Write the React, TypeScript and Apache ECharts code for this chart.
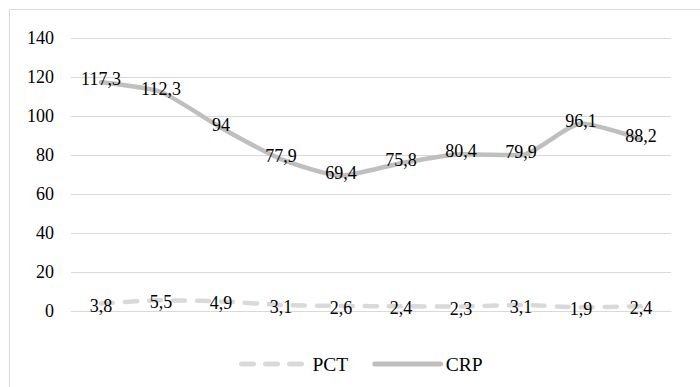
import React, { useEffect, useRef } from "react";
import * as echarts from "echarts";

const categories = ["1", "2", "3", "4", "5", "6", "7", "8", "9", "10"];
const pctValues = [3.8, 5.5, 4.9, 3.1, 2.6, 2.4, 2.3, 3.1, 1.9, 2.4];
const crpValues = [117.3, 112.3, 94, 77.9, 69.4, 75.8, 80.4, 79.9, 96.1, 88.2];
const yTicks = { min: 0, max: 140, interval: 20 };
const seriesNames = ["PCT", "CRP"];

const FONT = "serif";
const fmt = (v: number) => String(v).replace(".", ",");

export default function App() {
  const ref = useRef<HTMLDivElement>(null);
  useEffect(() => {
    if (!ref.current) return;
    const chart = echarts.init(ref.current, undefined, { renderer: "svg" });
    chart.setOption({
      animation: false,
      backgroundColor: "#ffffff",
      textStyle: { fontFamily: FONT },
      graphic: [
        {
          type: "rect",
          z: -10,
          shape: { x: 9.5, y: 9.5, width: 720, height: 420 },
          style: { fill: "none", stroke: "#d9d9d9", lineWidth: 1 },
        },
      ],
      grid: { left: 71, right: 29, top: 38, bottom: 76 },
      legend: {
        top: 349,
        left: 234,
        itemWidth: 66,
        itemHeight: 20,
        itemGap: 24,
        lineStyle: { width: 5, cap: "round" },
        textStyle: { fontFamily: FONT, fontSize: 19.5, color: "#000" },
        data: seriesNames,
      },
      xAxis: {
        type: "category",
        data: categories,
        boundaryGap: true,
        axisLine: { show: true, lineStyle: { color: "#d9d9d9", width: 1 } },
        axisTick: { show: false },
        axisLabel: { show: false },
      },
      yAxis: {
        type: "value",
        min: yTicks.min,
        max: yTicks.max,
        interval: yTicks.interval,
        axisLine: { show: false },
        axisTick: { show: false },
        axisLabel: { fontFamily: FONT, fontSize: 18, color: "#000", margin: 17 },
        splitLine: { lineStyle: { color: "#d9d9d9", width: 1 } },
      },
      series: [
        {
          name: "PCT",
          type: "line",
          data: pctValues,
          smooth: 0.2,
          symbol: "circle",
          symbolSize: 1,
          itemStyle: { color: "rgba(0,0,0,0)" },
          lineStyle: { color: "#d9d9d9", width: 4.5, type: [12, 12], cap: "round" },
          label: {
            show: true,
            position: "inside",
            offset: [0, 2],
            fontFamily: FONT,
            fontSize: 18,
            color: "#000",
            formatter: (p: any) => fmt(p.value),
          },
        },
        {
          name: "CRP",
          type: "line",
          data: crpValues,
          smooth: 0.2,
          symbol: "circle",
          symbolSize: 1,
          itemStyle: { color: "rgba(0,0,0,0)" },
          lineStyle: { color: "#bfbfbf", width: 4.5, cap: "round" },
          label: {
            show: true,
            position: "inside",
            offset: [0, -3],
            fontFamily: FONT,
            fontSize: 18,
            color: "#000",
            formatter: (p: any) => fmt(p.value),
          },
        },
      ],
    });
    return () => chart.dispose();
  }, []);
  return (
    <div
      ref={ref}
      style={{ position: "fixed", left: 0, top: 0, width: 700, height: 387 }}
    />
  );
}
